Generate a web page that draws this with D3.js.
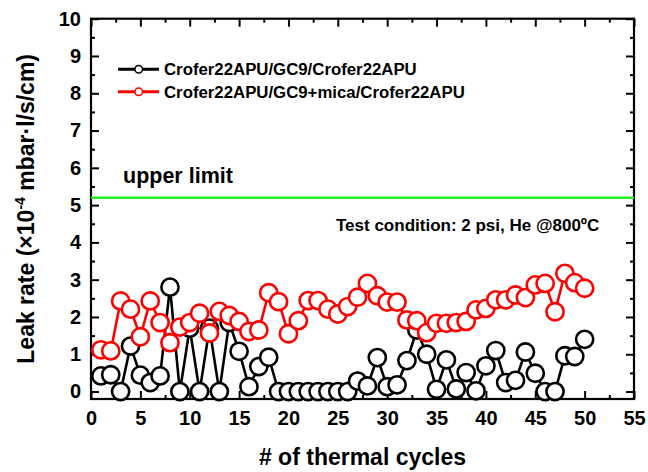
<!DOCTYPE html>
<html>
<head>
<meta charset="utf-8">
<script src="https://cdn.jsdelivr.net/npm/d3@7"></script>
<style>
  html, body { margin: 0; padding: 0; background: #fff; }
  svg { display: block; font-family: "Liberation Sans", Arial, sans-serif; font-weight: bold; }
</style>
</head>
<body>
<svg id="chart" width="648" height="472"></svg>
<script>
const cycles = [1,2,3,4,5,6,7,8,9,10,11,12,13,14,15,16,17,18,19,20,21,22,23,24,25,26,27,28,29,30,31,32,33,34,35,36,37,38,39,40,41,42,43,44,45,46,47,48,49,50];
const gc9 = [0.42,0.45,0,1.22,0.44,0.24,0.42,2.8,0,1.7, 0,1.7,0,1.85,1.08,0.13,0.67,0.92,0,0, 0,0,0,0,0,0,0.28,0.15,0.91,0.13, 0.18,0.83,1.65,1.0,0.06,0.85,0.07,0.51,0.02,0.69, 1.1,0.24,0.3,1.06,0.49,0,0,0.96,0.94,1.4];
const gc9Mica = [1.12,1.09,2.43,2.21,1.47,2.43,1.85,1.31,1.73,1.85, 2.1,1.57,2.15,2.04,1.88,1.61,1.65,2.65,2.41,1.55, 1.9,2.44,2.44,2.21,2.08,2.28,2.53,2.9,2.57,2.4, 2.4,1.92,1.9,1.58,1.83,1.83,1.85,1.88,2.19,2.23, 2.46,2.46,2.59,2.52,2.86,2.9,2.14,3.17,2.92,2.77];
const seriesNames = ["Crofer22APU/GC9/Crofer22APU", "Crofer22APU/GC9+mica/Crofer22APU"];
const upperLimit = 5.2;
const xTicks = [0,5,10,15,20,25,30,35,40,45,50,55];
const xMinor = [2.5,7.5,12.5,17.5,22.5,27.5,32.5,37.5,42.5,47.5,52.5];
const yTicks = [0,1,2,3,4,5,6,7,8,9,10];
const yMinor = [0.5,1.5,2.5,3.5,4.5,5.5,6.5,7.5,8.5,9.5];

const svg = d3.select("#chart");
const L = 91, R = 634, T = 18.7, B = 399;
const x = d3.scaleLinear().domain([0,55]).range([L,R]);
const y = d3.scaleLinear().domain([-0.2,10]).range([B,T]);

// axes
function styleAxis(g){
  g.select(".domain").remove();
  g.selectAll(".tick line").attr("stroke","#000").attr("stroke-width",2);
  g.selectAll(".tick text").attr("fill","#000").style("font-size","20px").style("font-weight","bold")
   .style("font-family",'"Liberation Sans", Arial, sans-serif');
}
svg.append("g").attr("transform",`translate(0,${B})`)
  .call(d3.axisBottom(x).tickValues(xTicks).tickSize(-8).tickSizeOuter(0).tickPadding(12)).call(styleAxis);
svg.append("g").attr("transform",`translate(0,${B})`)
  .call(d3.axisBottom(x).tickValues(xMinor).tickSize(-4).tickSizeOuter(0).tickFormat("")).call(styleAxis);
svg.append("g").attr("transform",`translate(0,${T})`)
  .call(d3.axisTop(x).tickValues(xTicks).tickSize(-8).tickSizeOuter(0).tickFormat("")).call(styleAxis);
svg.append("g").attr("transform",`translate(0,${T})`)
  .call(d3.axisTop(x).tickValues(xMinor).tickSize(-4).tickSizeOuter(0).tickFormat("")).call(styleAxis);
svg.append("g").attr("transform",`translate(${L},0)`)
  .call(d3.axisLeft(y).tickValues(yTicks).tickSize(-8).tickSizeOuter(0).tickPadding(10)).call(styleAxis);
svg.append("g").attr("transform",`translate(${L},0)`)
  .call(d3.axisLeft(y).tickValues(yMinor).tickSize(-4).tickSizeOuter(0).tickFormat("")).call(styleAxis);
svg.append("g").attr("transform",`translate(${R},0)`)
  .call(d3.axisRight(y).tickValues(yTicks).tickSize(-8).tickSizeOuter(0).tickFormat("")).call(styleAxis);
svg.append("g").attr("transform",`translate(${R},0)`)
  .call(d3.axisRight(y).tickValues(yMinor).tickSize(-4).tickSizeOuter(0).tickFormat("")).call(styleAxis);

svg.append("rect").attr("x",L).attr("y",T).attr("width",R-L).attr("height",B-T)
  .attr("fill","none").attr("stroke","#000").attr("stroke-width",2.2);

// upper limit
svg.append("line").attr("x1",x(0)).attr("x2",x(55)).attr("y1",y(upperLimit)).attr("y2",y(upperLimit))
  .attr("stroke","#22ee22").attr("stroke-width",2.5);
svg.append("text").attr("x",123).attr("y",183).style("font-size","21.5px").text("upper limit");
svg.append("text").attr("x",336).attr("y",231).style("font-size","17px").text("Test condition: 2 psi, He @800ºC");

// series
const line = d3.line().x((d,i)=>x(cycles[i])).y(d=>y(d));
function drawSeries(vals, color){
  svg.append("path").datum(vals).attr("d",line).attr("fill","none")
    .attr("stroke",color).attr("stroke-width",2.6).attr("stroke-linejoin","round");
  svg.append("g").selectAll("circle").data(vals).join("circle")
    .attr("cx",(d,i)=>x(cycles[i])).attr("cy",d=>y(d)).attr("r",8.6)
    .attr("fill","#fff").attr("stroke",color).attr("stroke-width",2.6);
}
drawSeries(gc9, "#000");
drawSeries(gc9Mica, "#ff0000");

// legend
const legColors = ["#000","#ff0000"];
const legY = [69.3, 91.7];
seriesNames.forEach((name,i)=>{
  svg.append("line").attr("x1",118).attr("x2",159).attr("y1",legY[i]).attr("y2",legY[i])
    .attr("stroke",legColors[i]).attr("stroke-width",3);
  svg.append("circle").attr("cx",138.7).attr("cy",legY[i]).attr("r",3.8)
    .attr("fill","#fff").attr("stroke",legColors[i]).attr("stroke-width",1.5);
  svg.append("text").attr("x",164).attr("y",legY[i]+5.8).style("font-size","16.8px").text(name);
});

// axis titles
svg.append("text").attr("x",(L+R)/2).attr("y",465).attr("text-anchor","middle")
  .style("font-size","23px").text("# of thermal cycles");
const yt = svg.append("text").attr("transform",`translate(34,${(T+B)/2}) rotate(-90)`)
  .attr("text-anchor","middle").style("font-size","23px");
yt.append("tspan").text("Leak rate (×10");
yt.append("tspan").attr("dy","-9").style("font-size","14px").text("-4");
yt.append("tspan").attr("dy","9").text(" mbar·l/s/cm)");
</script>
</body>
</html>
